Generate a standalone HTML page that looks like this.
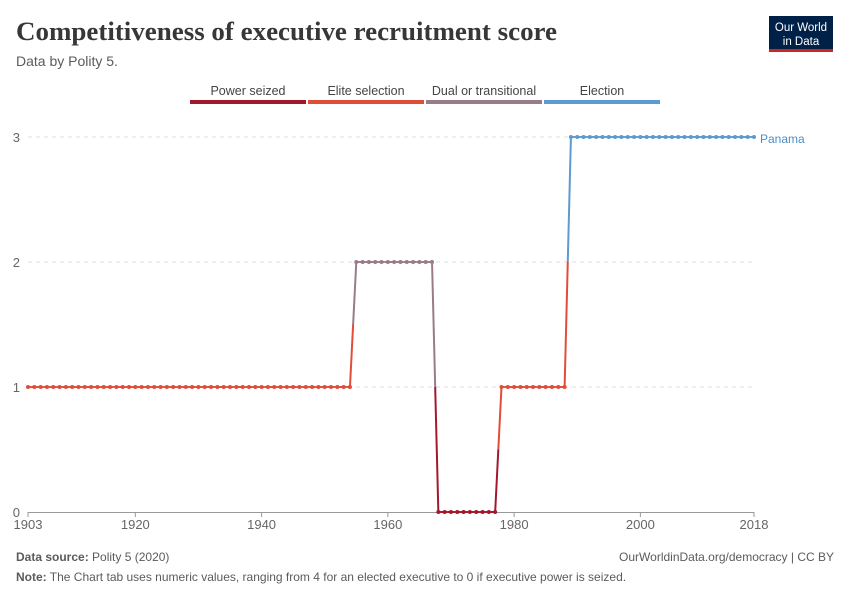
<!DOCTYPE html>
<html><head><meta charset="utf-8"><style>
body{margin:0;width:850px;height:600px;background:#fff;font-family:"Liberation Sans",sans-serif;overflow:hidden}
</style></head><body>
<svg width="850" height="600" xmlns="http://www.w3.org/2000/svg">
<text x="16" y="40" font-family="Liberation Serif,serif" font-size="26" font-weight="bold" fill="#373737" textLength="541" lengthAdjust="spacingAndGlyphs">Competitiveness of executive recruitment score</text>
<text x="16" y="66" font-size="14" fill="#5b5b5b">Data by Polity 5.</text>
<g>
<rect x="769" y="16" width="64" height="33" fill="#002147"/>
<rect x="769" y="49" width="64" height="3" fill="#ce261e"/>
<text x="801" y="31" font-size="11.5" fill="#fff" text-anchor="middle">Our World</text>
<text x="801" y="45" font-size="11.5" fill="#fff" text-anchor="middle">in Data</text>
</g>
<g id="legend"></g>
<g id="grid"></g>
<g id="axes"></g>
<g id="series"></g>
<text x="760" y="143" font-size="12" fill="#4c8ec9">Panama</text>
<text x="16" y="561" font-size="12" fill="#5b5b5b"><tspan font-weight="bold">Data source:</tspan> Polity 5 (2020)</text>
<text x="834" y="561" font-size="12" fill="#5b5b5b" text-anchor="end">OurWorldinData.org/democracy | CC BY</text>
<text x="16" y="581" font-size="12" fill="#5b5b5b"><tspan font-weight="bold">Note:</tspan> The Chart tab uses numeric values, ranging from 4 for an elected executive to 0 if executive power is seized.</text>
</svg>
<script>
const legendLabels=["Power seized","Elite selection","Dual or transitional","Election"];
const colors=["#a2182d","#e04e39","#9a7b8a","#5b9bd1"];
const years=[];for(let y=1903;y<=2018;y++)years.push(y);
const runs=[[1903,1954,1],[1955,1967,2],[1968,1977,0],[1978,1988,1],[1989,2018,3]];
const values=years.map(y=>runs.find(r=>y>=r[0]&&y<=r[1])[2]);
const xTicks=[1903,1920,1940,1960,1980,2000,2018];
const yTicks=[0,1,2,3];
const NS="http://www.w3.org/2000/svg";
const x=y=>28+(y-1903)*(726/115);
const yy=v=>512-v*125;
function mk(t,a,p){const e=document.createElementNS(NS,t);for(const k in a)e.setAttribute(k,a[k]);p.appendChild(e);return e;}
const colorOf=v=>v===0?colors[0]:v===1?colors[1]:v===2?colors[2]:colors[3];
const lg=document.getElementById('legend');
legendLabels.forEach((l,i)=>{
 const g=mk('g',{},lg);
 
 
 mk('rect',{x:190+i*118,y:100,width:116,height:4,fill:colors[i]},g);
 const t=mk('text',{x:248+i*118,y:95,'font-size':12.5,fill:'#444','text-anchor':'middle'},g);t.textContent=l;
});
const grid=document.getElementById('grid'),axes=document.getElementById('axes');
yTicks.forEach(v=>{
 if(v>0){const l=mk('line',{x1:28,x2:754,y1:yy(v),y2:yy(v),stroke:'#ddd','stroke-dasharray':'4,4'},grid);
 }
 const t=mk('text',{x:20,y:yy(v)+5,'font-size':13,fill:'#666','text-anchor':'end'},axes);t.textContent=v;
 
});
const ax=mk('line',{x1:28,x2:754,y1:512.5,y2:512.5,stroke:'#999'},axes);

xTicks.forEach(y=>{
 mk('line',{x1:x(y),x2:x(y),y1:512,y2:517,stroke:'#999'},axes);
 const t=mk('text',{x:x(y),y:529,'font-size':13,fill:'#666','text-anchor':'middle'},axes);t.textContent=y;
 
});
const s=document.getElementById('series');
for(let i=0;i<years.length-1;i++){
 const v0=values[i],v1=values[i+1],x0=x(years[i]),x1=x(years[i+1]);
 const xm=(x0+x1)/2,vm=(v0+v1)/2;
 let l=mk('line',{x1:x0,y1:yy(v0),x2:xm,y2:yy(vm),stroke:colorOf(v0),'stroke-width':2},s);
 
 l=mk('line',{x1:xm,y1:yy(vm),x2:x1,y2:yy(v1),stroke:colorOf(v1),'stroke-width':2},s);
 
}
years.forEach((y,i)=>{
 const c=mk('circle',{cx:x(y),cy:yy(values[i]),r:2,fill:colorOf(values[i])},s);
 
});
</script>
</body></html>
